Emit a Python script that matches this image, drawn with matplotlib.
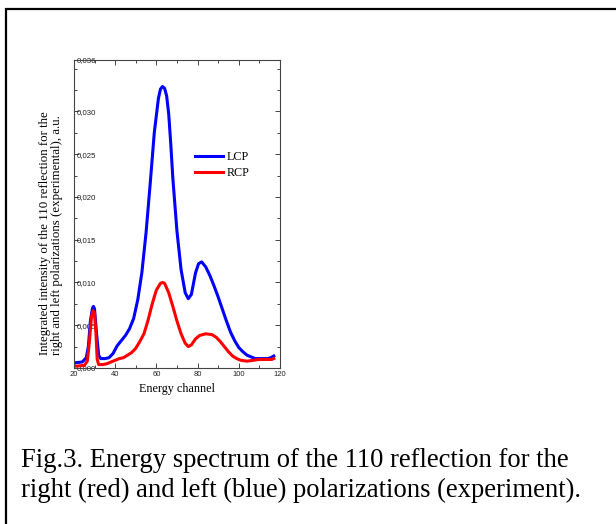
import matplotlib
matplotlib.use('Agg')
import matplotlib.pyplot as plt
from matplotlib.patches import Rectangle
from matplotlib.ticker import MultipleLocator

# LCP (blue) curve
lcp_x = [20, 24, 26, 27, 28, 29, 29.5, 30, 31, 32, 33, 35, 37, 39, 41, 43, 45, 47, 49, 51,
         53, 55, 57, 59, 61, 62, 63, 64, 65, 66, 67, 68, 70, 72, 74, 75.5, 77, 79, 80.5, 82,
         84, 86, 88, 90, 92, 94, 96, 98, 100, 102, 104, 106, 108, 110, 112, 114, 115.5, 117]
lcp_y = [0.0006, 0.0007, 0.0012, 0.0025, 0.0055, 0.0070, 0.0072, 0.0069, 0.0040, 0.0015,
         0.0011, 0.0011, 0.0012, 0.0017, 0.0026, 0.0032, 0.0038, 0.0046, 0.0058, 0.0080,
         0.0112, 0.0158, 0.0215, 0.0275, 0.0315, 0.0326, 0.0329, 0.0327, 0.0318, 0.0297,
         0.0262, 0.0222, 0.0160, 0.0115, 0.0088, 0.0081, 0.0086, 0.0111, 0.0122, 0.0124,
         0.0118, 0.0108, 0.0096, 0.0083, 0.0069, 0.0055, 0.0042, 0.0032, 0.0024, 0.0019,
         0.0015, 0.0013, 0.0011, 0.0011, 0.0011, 0.0011, 0.0012, 0.0014]

# RCP (red) curve
rcp_x = [20, 25, 26.5, 27.5, 28.5, 29.3, 30, 30.7, 31.3, 32, 34, 36, 38, 40, 42, 44, 46, 48,
         50, 52, 54, 56, 58, 60, 62, 63, 64, 66, 68, 70, 72, 74, 75.5, 77, 79, 81, 84, 87,
         89, 91, 93, 95, 97, 99, 101, 104, 107, 110, 113, 116, 117]
rcp_y = [0.0002, 0.0003, 0.0008, 0.0030, 0.0060, 0.0067, 0.0064, 0.0040, 0.0010, 0.0004,
         0.0004, 0.0005, 0.0007, 0.0009, 0.0011, 0.0012, 0.0015, 0.0018, 0.0023, 0.0031,
         0.0040, 0.0056, 0.0075, 0.0091, 0.0099, 0.0100, 0.0099, 0.0088, 0.0072, 0.0055,
         0.0040, 0.0029, 0.0025, 0.0027, 0.0034, 0.0038, 0.0040, 0.0039, 0.0036, 0.0031,
         0.0025, 0.0019, 0.0014, 0.0011, 0.0009, 0.0008, 0.0009, 0.0010, 0.0010, 0.0010, 0.0011]

x_ticks = [20, 40, 60, 80, 100, 120]
y_ticks = [0.000, 0.005, 0.010, 0.015, 0.020, 0.025, 0.030, 0.036]
y_tick_labels = ['0,000', '0,005', '0,010', '0,015', '0,020', '0,025', '0,030', '0,036']

serif = ['Liberation Serif', 'DejaVu Serif']
sans = ['Liberation Sans', 'DejaVu Sans']

fig = plt.figure(figsize=(6.16, 5.24), dpi=100)
ax = fig.add_axes([0.120, 0.2977, 0.3345, 0.5878])

ax.plot(lcp_x, lcp_y, color='#0000ff', lw=2.2, label='LCP')
ax.plot(rcp_x, rcp_y, color='#ff0000', lw=2.2, label='RCP')

ax.set_xlim(20, 120)
ax.set_ylim(0, 0.036)
ax.set_xticks(x_ticks)
ax.set_xticklabels([str(v) for v in x_ticks], fontfamily=sans, fontsize=5.5)
ax.set_yticks(y_ticks)
ax.set_yticklabels(y_tick_labels, fontfamily=sans, fontsize=5.7)
ax.xaxis.set_minor_locator(MultipleLocator(10))
ax.yaxis.set_minor_locator(MultipleLocator(0.0025))

ax.tick_params(which='both', direction='in', top=True, right=True, color='#444444', width=0.7)
ax.tick_params(which='major', length=3.5)
ax.tick_params(which='minor', length=2)
ax.tick_params(axis='x', pad=2, labelcolor='#222222')
ax.tick_params(axis='y', pad=-2, labelcolor='#222222')
for lab in ax.get_yticklabels():
    lab.set_horizontalalignment('left')
for sp in ax.spines.values():
    sp.set_color('#444444')
    sp.set_linewidth(0.8)

ax.set_xlabel('Energy channel', fontfamily=serif, fontsize=8.7, labelpad=4)

fig.text(51 / 616, 1 - 355 / 524,
         'Integrated intensity of the 110 reflection for the\n'
         'right and left polarizations (experimental), a.u.',
         rotation=90, ha='center', va='bottom', multialignment='left',
         fontfamily=serif, fontsize=9.3, linespacing=1.1)

ax.legend(loc='upper left', bbox_to_anchor=(0.587, 0.705), frameon=False,
          prop={'family': serif, 'size': 8.7}, handlelength=2.3, handletextpad=0.3,
          borderpad=0, borderaxespad=0, labelspacing=0.35)

fig.text(21 / 616, 1 - 467 / 524, 'Fig.3. Energy spectrum of the 110 reflection for the',
         ha='left', va='baseline', fontfamily=serif, fontsize=19.2)
fig.text(21 / 616, 1 - 497 / 524, 'right (red) and left (blue) polarizations (experiment).',
         ha='left', va='baseline', fontfamily=serif, fontsize=19.2)

fig.add_artist(Rectangle((6 / 616, -0.1), 2, 1.1 - 9 / 524, transform=fig.transFigure,
                         fill=False, lw=1.6, edgecolor='black'))

fig.savefig('out.png', dpi=100)
